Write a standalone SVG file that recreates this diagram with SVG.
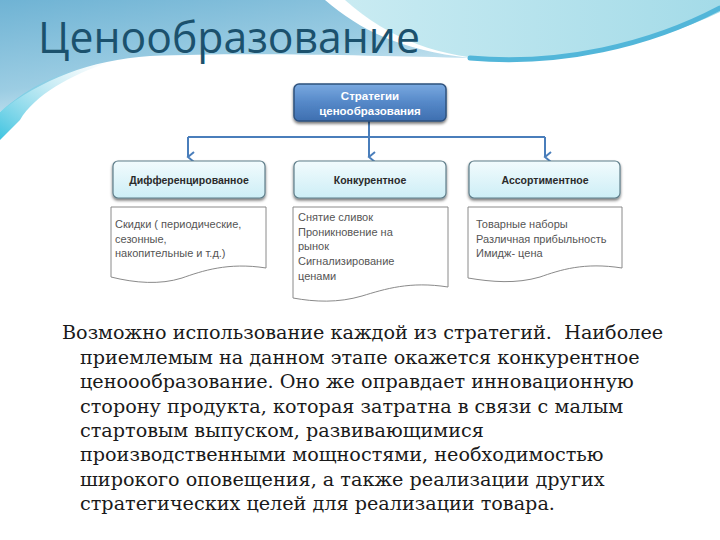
<svg xmlns="http://www.w3.org/2000/svg" width="720" height="540" viewBox="0 0 720 540">
<defs>
<linearGradient id="bgBlue" x1="0" y1="0" x2="0.6" y2="1">
<stop offset="0" stop-color="#6fb3d4"/>
<stop offset="0.6" stop-color="#9ccde3"/>
<stop offset="1" stop-color="#e4f3f9"/>
</linearGradient>
<linearGradient id="bgCyan" x1="0" y1="0" x2="1" y2="0">
<stop offset="0" stop-color="#c9ebf2"/>
<stop offset="1" stop-color="#a4dbe8"/>
</linearGradient>
<linearGradient id="wedge" x1="0" y1="1" x2="1" y2="0">
<stop offset="0" stop-color="#3fc4e0"/>
<stop offset="1" stop-color="#a8dcec" stop-opacity="0"/>
</linearGradient>
<linearGradient id="topNode" x1="0" y1="0" x2="0" y2="1">
<stop offset="0" stop-color="#7aa9e0"/>
<stop offset="0.5" stop-color="#5588c8"/>
<stop offset="1" stop-color="#3e6fb0"/>
</linearGradient>
<linearGradient id="subNode" x1="0" y1="0" x2="0" y2="1">
<stop offset="0" stop-color="#f2fbfd"/>
<stop offset="1" stop-color="#cdeef6"/>
</linearGradient>
<filter id="sh" x="-10%" y="-20%" width="120%" height="150%">
<feGaussianBlur in="SourceAlpha" stdDeviation="1.6"/>
<feOffset dx="0" dy="2" result="b"/>
<feComponentTransfer><feFuncA type="linear" slope="0.55"/></feComponentTransfer>
<feMerge><feMergeNode/><feMergeNode in="SourceGraphic"/></feMerge>
</filter>
<marker id="arr" markerWidth="12" markerHeight="10" refX="6" refY="8" orient="auto-start-reverse" markerUnits="userSpaceOnUse" viewBox="0 0 12 10">
<polyline points="1,2 6,8 11,2" fill="none" stroke="#4a7ebb" stroke-width="2"/>
</marker>
</defs>
<style>
.title{font-family:"Open Sans","Liberation Sans",sans-serif;font-size:44px;fill:#1b516d}
.top{font-family:"Liberation Sans",sans-serif;font-size:11.5px;font-weight:bold;fill:#ffffff;text-anchor:middle}
.sub{font-family:"Liberation Sans",sans-serif;font-size:10.5px;font-weight:bold;fill:#2a2a2a;text-anchor:middle}
.doc{fill:#ffffff;stroke:#8a8a8a;stroke-width:1}
.dt{font-family:"Liberation Sans",sans-serif;font-size:11px;fill:#555555}
.con{fill:none;stroke:#4a7ebb;stroke-width:2}
.para{font-family:"DejaVu Serif","Liberation Serif",serif;font-size:19.2px;fill:#1a1a1a;white-space:pre}
</style>
<rect width="720" height="540" fill="#ffffff"/>
<g id="background">
<path d="M0,0 H325 C360,30 400,50 470,58 C380,56 250,52 150,56 C90,60 40,80 0,112 Z" fill="url(#bgBlue)"/>
<path d="M0,112 C30,86 60,70 110,62 C70,75 35,95 20,120 L0,140 Z" fill="url(#wedge)"/>
<path d="M345,0 H720 V12 C650,45 570,62 505,60 C440,58 390,40 345,0 Z" fill="url(#bgCyan)"/>
<path d="M470,58 C560,66 650,45 720,8" fill="none" stroke="#52b6d9" stroke-width="5" stroke-linecap="round"/>
<text class="title" x="38" y="53" textLength="382" lengthAdjust="spacingAndGlyphs">Ценообразование</text>
</g>
<g id="connectors">
<path class="con" d="M369,121 V137"/>
<path class="con" d="M188,137 H545"/>
<path class="con" d="M188,137 V157" marker-end="url(#arr)"/>
<path class="con" d="M369,137 V157" marker-end="url(#arr)"/>
<path class="con" d="M545,137 V157" marker-end="url(#arr)"/>
</g>
<g id="node-strategies">
<rect x="294" y="84" width="152" height="37" rx="5" fill="url(#topNode)" stroke="#2f527e" stroke-width="1.5" filter="url(#sh)"/>
<text class="top" x="370" y="100">Стратегии</text>
<text class="top" x="370" y="115">ценообразования</text>
</g>
<g id="node-diff">
<rect x="113" y="161" width="152" height="37" rx="5" fill="url(#subNode)" stroke="#5f7e8a" stroke-width="1.2" filter="url(#sh)"/>
<text class="sub" x="189" y="183.5">Дифференцированное</text>
</g>
<g id="node-konk">
<rect x="294" y="161" width="152" height="37" rx="5" fill="url(#subNode)" stroke="#5f7e8a" stroke-width="1.2" filter="url(#sh)"/>
<text class="sub" x="370" y="183.5">Конкурентное</text>
</g>
<g id="node-assort">
<rect x="469" y="161" width="151" height="37" rx="5" fill="url(#subNode)" stroke="#5f7e8a" stroke-width="1.2" filter="url(#sh)"/>
<text class="sub" x="545" y="183.5">Ассортиментное</text>
</g>
<g id="doc-diff">
<path class="doc" d="M111,207 H266 V268 C228,262 202,271 182,278 C160,285 135,283 111,277 Z"/>
<text class="dt" x="115" y="228">Скидки ( периодические,</text>
<text class="dt" x="115" y="242.5">сезонные,</text>
<text class="dt" x="115" y="257">накопительные и т.д.)</text>
</g>
<g id="doc-konk">
<path class="doc" d="M293,207 H448 V287 C410,281 385,289 362,296 C338,303 315,302 293,298 Z"/>
<text class="dt" x="298" y="221">Снятие сливок</text>
<text class="dt" x="298" y="235.5">Проникновение на</text>
<text class="dt" x="298" y="250">рынок</text>
<text class="dt" x="298" y="265">Сигнализирование</text>
<text class="dt" x="298" y="279.5">ценами</text>
</g>
<g id="doc-assort">
<path class="doc" d="M468,207 H622 V268 C584,262 560,270 540,277 C516,284 492,282 468,278 Z"/>
<text class="dt" x="476" y="228">Товарные наборы</text>
<text class="dt" x="476" y="242.5">Различная прибыльность</text>
<text class="dt" x="476" y="257">Имидж- цена</text>
</g>
<g id="paragraph">
<text class="para" x="62" y="339">Возможно использование каждой из стратегий.  Наиболее</text>
<text class="para" x="80" y="363.5">приемлемым на данном этапе окажется конкурентное</text>
<text class="para" x="80" y="388">ценоообразование. Оно же оправдает инновационную</text>
<text class="para" x="80" y="412.5">сторону продукта, которая затратна в связи с малым</text>
<text class="para" x="80" y="437">стартовым выпуском, развивающимися</text>
<text class="para" x="80" y="461">производственными мощностями, необходимостью</text>
<text class="para" x="80" y="485.5">широкого оповещения, а также реализации других</text>
<text class="para" x="80" y="510">стратегических целей для реализации товара.</text>
</g>
</svg>
